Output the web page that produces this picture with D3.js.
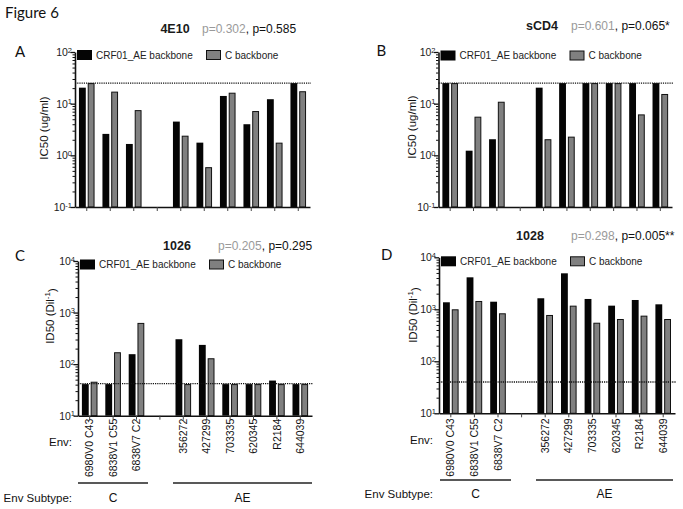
<!DOCTYPE html>
<html><head><meta charset="utf-8">
<script src="https://cdn.jsdelivr.net/npm/d3@7"></script>
<style>
body{margin:0;background:#fff}
svg{display:block}
text{font-family:"Liberation Sans",Arial,Helvetica,sans-serif}
</style>
</head><body>
<svg id="chart" width="683" height="509"></svg>
<script>
// ---------- data ----------
const envC = ["6980V0 C43", "6838V1 C55", "6838V7 C2"];
const envAE = ["356272", "427299", "703335", "620345", "R2184", "644039"];
const subtypeLabels = ["C", "AE"];
const seriesNames = ["CRF01_AE backbone", "C backbone"];

// values in order envC then envAE
const ic50_4E10_AE = [20.4, 2.6, 1.66, 4.5, 1.76, 14.1, 4.0, 12.2, 25];
const ic50_4E10_C  = [25, 17.1, 7.5, 2.4, 0.59, 16.3, 7.2, 1.76, 17.4];
const ic50_sCD4_AE = [25, 1.23, 2.05, 20.4, 25, 25, 25, 25, 25];
const ic50_sCD4_C  = [25, 5.6, 10.9, 2.05, 2.3, 25, 25, 6.2, 15.4];
const id50_1026_AE = [41, 41, 156, 304, 236, 41, 41, 48, 41];
const id50_1026_C  = [45.6, 170, 630, 41, 130, 41, 41, 41, 41];
const id50_1028_AE = [1364, 4120, 1400, 1630, 4920, 1580, 1175, 1510, 1247];
const id50_1028_C  = [1000, 1445, 838, 778, 1175, 552, 651, 755, 651];

const cutoffA = 25, cutoffB = 25, cutoffC = 42, cutoffD = 40;
const yTicksIC50 = [0.1, 1, 10, 100];
const yTicksID50 = [10, 100, 1000, 10000];

const titles = {A: "4E10", B: "sCD4", C: "1026", D: "1028"};
const pGray  = {A: "p=0.302", B: "p=0.601", C: "p=0.205", D: "p=0.298"};
const pBlack = {A: ", p=0.585", B: ", p=0.065*", C: ", p=0.295", D: ", p=0.005**"};

// ---------- layout (positions only) ----------
const GAP = "__gap__";
const slots = [...envC, GAP, ...envAE];
const envAll = [...envC, ...envAE];

const panels = [
  {key:"A", ae:ic50_4E10_AE, c:ic50_4E10_C, cutoff:cutoffA, ticks:yTicksIC50, ylab:"IC50 (ug/ml)",
   x0:75, x1:310, yT:52, yB:207, letter:[15,57], title:[175,32.5], pX:202, ylabXY:[44,128], legY:55, xlabels:false},
  {key:"B", ae:ic50_sCD4_AE, c:ic50_sCD4_C, cutoff:cutoffB, ticks:yTicksIC50, ylab:"IC50 (ug/ml)",
   x0:438.5, x1:672, yT:52, yB:207, letter:[376.5,56], title:[542,29.5], pX:571, ylabXY:[411.5,127], legY:55.5, xlabels:false},
  {key:"C", ae:id50_1026_AE, c:id50_1026_C, cutoff:cutoffC, ticks:yTicksID50, ylab:"ID50 (Dil",
   x0:78, x1:312, yT:261, yB:415.7, letter:[15,261], title:[177,249.5], pX:218, ylabXY:[50,316], legY:264.5, xlabels:true,
   labOff:3, envY:441.5, lineY:483, subY:497.5, cLine:[78,148], aeLine:[173,312]},
  {key:"D", ae:id50_1028_AE, c:id50_1028_C, cutoff:cutoffD, ticks:yTicksID50, ylab:"ID50 (Dil",
   x0:439, x1:675, yT:257.3, yB:413.3, letter:[381,260], title:[530,239.5], pX:571, ylabXY:[413,315], legY:261.3, xlabels:true,
   labOff:5, envY:440, lineY:480, subY:493.5, cLine:[440,511], aeLine:[536,673]}
];

const svg = d3.select("#chart");
const BLACK = "#050505", GRAY = "#808080";

svg.append("text").attr("x", 5).attr("y", 18)
  .style("font-family", "Lato, 'Open Sans', sans-serif").style("font-size", "15px").attr("fill", "#111")
  .text("Figure 6");

function supLabel(sel, v) {
  const e = Math.round(Math.log10(v));
  sel.append("tspan").text("10");
  sel.append("tspan").attr("dy", "-0.45em").style("font-size", "7.5px").text(e);
}

panels.forEach(p => {
  const g = svg.append("g");
  const x = d3.scaleBand().domain(slots).range([p.x0, p.x1]).paddingInner(0).paddingOuter(0);
  const y = d3.scaleLog().domain([p.ticks[0], p.ticks[p.ticks.length - 1]]).range([p.yB, p.yT]);
  const sub = d3.scaleBand().domain(["AE", "C"]).range([-7.8, 7.8]).paddingInner(0.22);

  // panel letter
  g.append("text").attr("x", p.letter[0]).attr("y", p.letter[1])
    .style("font-family", "Lato, 'Open Sans', sans-serif").style("font-size", "15px").attr("fill", "#111")
    .text(p.key);

  // title
  g.append("text").attr("x", p.title[0]).attr("y", p.title[1]).attr("text-anchor", "middle")
    .style("font-size", "12.5px").style("font-weight", "bold").attr("fill", "#1a1a1a").text(titles[p.key]);
  const pt = g.append("text").attr("x", p.pX).attr("y", p.title[1]).style("font-size", "12px");
  pt.append("tspan").attr("fill", "#9a9a9a").text(pGray[p.key]);
  pt.append("tspan").attr("fill", "#111").text(pBlack[p.key]);

  // bars
  const rows = envAll.map((env, i) => ({env, ae: p.ae[i], c: p.c[i]}));
  const grp = g.selectAll("g.bar").data(rows).join("g")
    .attr("transform", d => `translate(${x(d.env) + x.bandwidth() / 2},0)`);
  grp.append("rect").attr("x", sub("AE")).attr("width", sub.bandwidth())
    .attr("y", d => y(d.ae)).attr("height", d => p.yB - y(d.ae)).attr("fill", BLACK);
  grp.append("rect").attr("x", sub("C") + 0.5).attr("width", sub.bandwidth() - 1)
    .attr("y", d => y(d.c) + 0.5).attr("height", d => Math.max(0, p.yB - y(d.c) - 0.5))
    .attr("fill", GRAY).attr("stroke", "#111").attr("stroke-width", 1);

  // cutoff dotted line
  g.append("line").attr("x1", p.x0).attr("x2", p.x1 + 1).attr("y1", y(p.cutoff)).attr("y2", y(p.cutoff))
    .attr("stroke", "#111").attr("stroke-width", 1.3).attr("stroke-dasharray", "1.2,1");

  // y axis: major + minor ticks
  const minor = [];
  for (let k = 0; k < p.ticks.length - 1; k++) for (let m = 2; m <= 9; m++) minor.push(p.ticks[k] * m);
  const yMinor = g.append("g").attr("transform", `translate(${p.x0},0)`)
    .call(d3.axisLeft(y).tickValues(minor).tickSize(2.5).tickFormat(""));
  yMinor.select(".domain").remove();
  yMinor.selectAll("line").attr("stroke", "#111").attr("stroke-width", 1);
  const yAx = g.append("g").attr("transform", `translate(${p.x0},0)`)
    .call(d3.axisLeft(y).tickValues(p.ticks).tickSize(4.5).tickSizeOuter(0).tickFormat(""));
  yAx.select(".domain").attr("stroke", "#111").attr("stroke-width", 1.6);
  yAx.selectAll("line").attr("stroke", "#111").attr("stroke-width", 1.3);
  p.ticks.forEach(v => {
    const t = g.append("text").attr("x", p.x0 - 3).attr("y", y(v) + 4).attr("text-anchor", "end")
      .style("font-size", "10.5px").attr("fill", "#222");
    supLabel(t, v);
  });

  // x axis
  const xAx = g.append("g").attr("transform", `translate(0,${p.yB})`)
    .call(d3.axisBottom(x).tickSize(4).tickSizeOuter(0).tickFormat(""));
  xAx.select(".domain").attr("stroke", "#111").attr("stroke-width", 1.6);
  xAx.selectAll("line").attr("stroke", "#444").attr("stroke-width", 1);

  // y label
  const yl = g.append("text").attr("transform", `translate(${p.ylabXY[0]},${p.ylabXY[1]}) rotate(-90)`)
    .attr("text-anchor", "middle").attr("dy", "0.35em").style("font-size", "11.5px").attr("fill", "#111");
  yl.append("tspan").text(p.ylab);
  if (p.key === "C" || p.key === "D") {
    yl.append("tspan").attr("dy", "-0.45em").style("font-size", "8px").text("-1");
    yl.append("tspan").attr("dy", "0.45em").text(")");
  }

  // legend
  const lg = g.append("g");
  lg.append("rect").attr("x", p.x0 + 2).attr("y", p.legY - 5).attr("width", 15).attr("height", 10).attr("fill", BLACK);
  lg.append("text").attr("x", p.x0 + 21).attr("y", p.legY).attr("dy", "0.35em").style("font-size", "10px")
    .attr("fill", "#222").text(seriesNames[0]);
  lg.append("rect").attr("x", p.x0 + 131.5).attr("y", p.legY - 4.5).attr("width", 14).attr("height", 9)
    .attr("fill", GRAY).attr("stroke", "#111").attr("stroke-width", 1);
  lg.append("text").attr("x", p.x0 + 150).attr("y", p.legY).attr("dy", "0.35em").style("font-size", "10px")
    .attr("fill", "#222").text(seriesNames[1]);

  // x labels + subtype
  if (p.xlabels) {
    envAll.forEach(env => {
      g.append("text")
        .attr("transform", `translate(${x(env) + x.bandwidth() / 2},${p.yB + p.labOff}) rotate(-90)`)
        .attr("text-anchor", "end").attr("dy", "0.35em").style("font-size", "10.5px").attr("fill", "#111")
        .text(env);
    });
    g.append("text").attr("x", p.x0 - 6).attr("y", p.envY).attr("dy", "0.35em").attr("text-anchor", "end")
      .style("font-size", "11.5px").attr("fill", "#111").text("Env:");
    g.append("text").attr("x", p.x0 - 6).attr("y", p.subY).attr("dy", "0.35em").attr("text-anchor", "end")
      .style("font-size", "11.5px").attr("fill", "#111").text("Env Subtype:");
    [p.cLine, p.aeLine].forEach((ln, i) => {
      g.append("line").attr("x1", ln[0]).attr("x2", ln[1]).attr("y1", p.lineY).attr("y2", p.lineY)
        .attr("stroke", "#222").attr("stroke-width", 1.3);
      g.append("text").attr("x", (ln[0] + ln[1]) / 2).attr("y", p.subY).attr("dy", "0.35em")
        .attr("text-anchor", "middle").style("font-size", "12px").attr("fill", "#111").text(subtypeLabels[i]);
    });
  }
});
</script>
</body></html>
